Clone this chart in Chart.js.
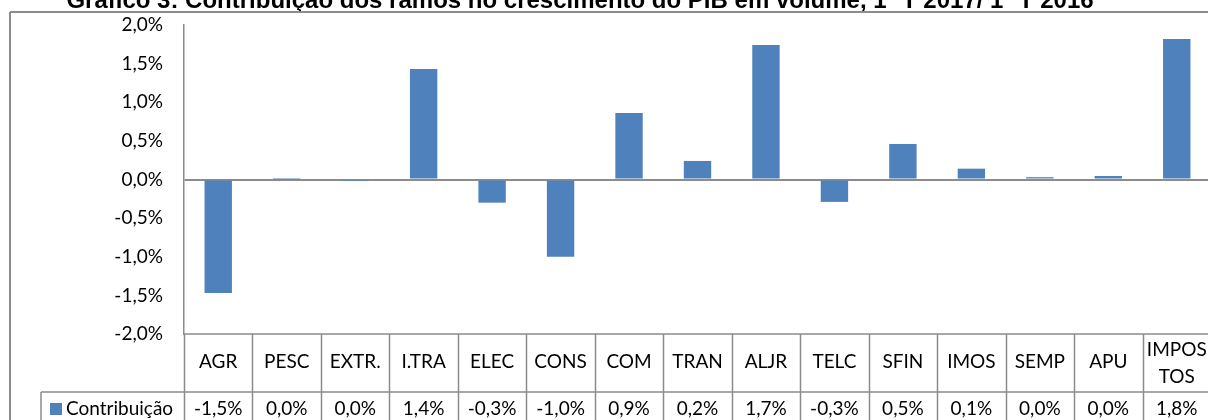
<!DOCTYPE html>
<html>
<head>
<meta charset="utf-8">
<script src="https://cdn.jsdelivr.net/npm/chart.js@4/dist/chart.umd.min.js"></script>
<style>
  html, body { margin: 0; padding: 0; background: #fff; overflow: hidden; }
  #wrap { width: 1208px; height: 420px; overflow: hidden; }
</style>
</head>
<body>
<div id="wrap"><canvas id="myChart" width="1212" height="420"></canvas></div>
<script>
// data (percentage points)
var categories = ['AGR', 'PESC', 'EXTR.', 'I.TRA', 'ELEC', 'CONS', 'COM', 'TRAN', 'ALJR', 'TELC', 'SFIN', 'IMOS', 'SEMP', 'APU', ['IMPOS', 'TOS']];
var contribuicao = [-1.47, 0.003, -0.02, 1.43, -0.30, -1.00, 0.86, 0.24, 1.74, -0.29, 0.46, 0.14, 0.03, 0.045, 1.82];
var seriesName = 'Contribuição';
var yTicks = [-2, -1.5, -1, -0.5, 0, 0.5, 1, 1.5, 2];
var title = 'Gráfico 3: Contribuição dos ramos no crescimento do PIB em volume, 1º T 2017/ 1º T 2016';

var barColor = '#4F81BD';
var lineColor = '#8C8C8C';
var labelFont = '19px Lato';

const pct = (v) => {
    var r = Math.round(v * 10) / 10;
    if (r === 0) r = 0; // no "-0,0"
    return r.toFixed(1).replace('.', ',') + '%';
};

// frame, title and the data table under the plot
const tablePlugin = {
    id: 'tablePlugin',
    afterDraw(chart) {
        var c = chart.ctx;
        var xs = chart.scales.x;
        var area = chart.chartArea;
        var n = categories.length;
        var w = (area.right - area.left) / n;
        var top = area.bottom;
        var mid = 392;
        var bot = 420;

        c.save();
        // title (cut at the top, as in the picture)
        c.fillStyle = '#000';
        c.font = 'bold 24px "Liberation Sans", Arial';
        c.textAlign = 'center';
        c.textBaseline = 'alphabetic';
        c.fillText(title, 580, 8);

        c.strokeStyle = lineColor;
        c.lineWidth = 2;
        c.beginPath();
        c.moveTo(10, 12); c.lineTo(1212, 12);
        c.moveTo(10, 12); c.lineTo(10, 420);
        c.stroke();

        c.lineWidth = 1.5;
        c.beginPath();
        c.moveTo(area.left, top); c.lineTo(area.right, top);
        c.moveTo(41, mid); c.lineTo(area.right, mid);
        c.moveTo(41, mid); c.lineTo(41, bot);
        for (var i = 0; i <= n; i++) {
            var x = Math.round(area.left + i * w) + 0.5;
            c.moveTo(x, top); c.lineTo(x, bot);
        }
        c.stroke();

        c.font = labelFont;
        c.fillStyle = '#000';
        c.textAlign = 'center';
        c.textBaseline = 'middle';
        for (var i = 0; i < n; i++) {
            var cx = xs.getPixelForValue(i);
            var lab = categories[i];
            if (Array.isArray(lab)) {
                c.fillText(lab[0], cx, 350);
                c.fillText(lab[1], cx, 377);
            } else {
                c.fillText(lab, cx, 362);
            }
            c.fillText(pct(contribuicao[i]), cx, 409);
        }

        // legend key
        c.fillStyle = barColor;
        c.fillRect(50, 403, 12, 12);
        c.fillStyle = '#000';
        c.textAlign = 'left';
        c.fillText(seriesName, 66, 409);
        c.restore();
    }
};

const ctx = document.getElementById('myChart').getContext('2d');
let myChart = new Chart(ctx, {
    type: 'bar',
    data: {
        labels: categories,
        datasets: [{
            label: seriesName,
            data: contribuicao,
            backgroundColor: barColor,
            borderWidth: 0,
            barPercentage: 0.4,
            categoryPercentage: 1.0
        }]
    },
    options: {
        responsive: false,
        animation: false,
        devicePixelRatio: 1,
        layout: { padding: { left: 0, right: 1, top: 25, bottom: 86 } },
        plugins: {
            legend: { display: false },
            tooltip: { enabled: false }
        },
        scales: {
            x: { display: false },
            y: {
                min: -2,
                max: 2,
                afterFit: (s) => { s.width = 184; s.paddingTop = 0; s.paddingBottom = 0; },
                afterBuildTicks: (s) => { s.ticks = yTicks.map(v => ({ value: v })); },
                ticks: {
                    padding: 21,
                    color: '#000',
                    font: { family: 'Lato', size: 19 },
                    callback: (v) => pct(v)
                },
                grid: {
                    drawTicks: false,
                    lineWidth: 2,
                    color: (c) => (c.tick && c.tick.value === 0) ? lineColor : 'rgba(0,0,0,0)'
                },
                border: { display: true, color: lineColor, width: 1.5 }
            }
        }
    },
    plugins: [tablePlugin]
});
</script>
</body>
</html>
